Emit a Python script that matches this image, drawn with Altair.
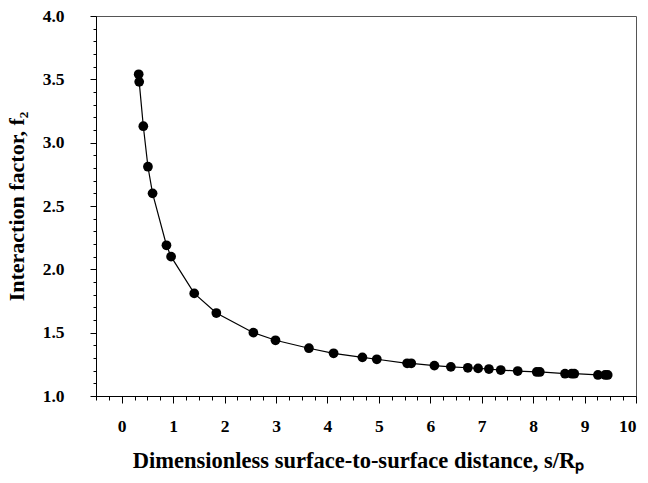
import altair as alt
import pandas as pd

x_vals = [0.33, 0.34, 0.42, 0.51, 0.60, 0.87, 0.96, 1.41, 1.84, 2.56, 2.99, 3.64,
          4.12, 4.68, 4.96, 5.55, 5.63, 6.08, 6.40, 6.73, 6.93, 7.14, 7.37, 7.70,
          8.07, 8.13, 8.62, 8.75, 8.80, 9.26, 9.40, 9.45]
f2_vals = [3.54, 3.48, 3.13, 2.81, 2.60, 2.19, 2.10, 1.81, 1.655, 1.50, 1.44, 1.377,
           1.337, 1.305, 1.29, 1.258, 1.258, 1.24, 1.23, 1.223, 1.218, 1.213, 1.205, 1.197,
           1.19, 1.19, 1.176, 1.176, 1.176, 1.166, 1.166, 1.166]

x_ticks = [round(-0.5 + 0.25 * i, 2) for i in range(43)]
y_ticks = [round(1.0 + 0.1 * i, 1) for i in range(31)]

df = pd.DataFrame({"s": x_vals, "f2": f2_vals, "order": list(range(len(x_vals)))})

FONT = "Liberation Serif"

x_enc = alt.X("s:Q", scale=alt.Scale(domain=[-0.5, 10], nice=False, zero=False),
              axis=alt.Axis(values=x_ticks, grid=False,
                            title="Dimensionless surface-to-surface distance, s/Rₚ",
                            labelExpr="abs(datum.value - round(datum.value)) < 1e-6 ? format(datum.value, 'd') : ''",
                            tickSize={"condition": {"test": "abs(datum.value - round(datum.value)) < 1e-6", "value": 7}, "value": 4},
                            labelPadding=14, titlePadding=15, titleFontSize=22.5,
                            titleX=262, titleAlign="center"))
y_enc = alt.Y("f2:Q", scale=alt.Scale(domain=[1.0, 4.0], nice=False, zero=False),
              axis=alt.Axis(values=y_ticks, grid=False,
                            title="Interaction factor, f₂",
                            labelExpr="abs(datum.value*2 - round(datum.value*2)) < 1e-6 ? format(datum.value, '.1f') : ''",
                            tickSize={"condition": {"test": "abs(datum.value*2 - round(datum.value*2)) < 1e-6", "value": 6}, "value": 3},
                            labelPadding=26, titlePadding=14, titleFontSize=22))

line = alt.Chart(df).mark_line(color="black", strokeWidth=1.2).encode(x=x_enc, y=y_enc, order="order:Q")
pts = alt.Chart(df).mark_circle(color="black", size=95, opacity=1).encode(x=x_enc, y=y_enc)

chart = (line + pts).properties(
    width=540, height=380,
    background="white",
    autosize=alt.AutoSizeParams(type="none"),
    padding={"left": 96, "top": 16, "right": 12, "bottom": 87},
).configure_view(stroke="#555", strokeWidth=1).configure_axis(
    domainColor="black", tickColor="black", labelColor="black", titleColor="black",
    labelFont=FONT, titleFont=FONT, labelFontSize=17.5,
    labelFontWeight="bold", titleFontWeight="bold", domainWidth=1, tickWidth=1,
)

chart.save("out.html", embed_options={"renderer": "svg", "actions": False})
